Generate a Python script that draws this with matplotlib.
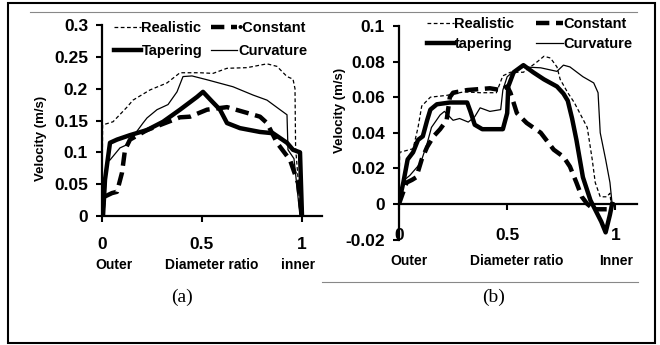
import matplotlib
matplotlib.use("Agg")
import matplotlib.pyplot as plt
from matplotlib.lines import Line2D
from matplotlib.patches import Rectangle

plt.rcParams["font.family"] = ["Liberation Sans", "DejaVu Sans"]
plt.rcParams["font.weight"] = "bold"

# ── data ─────────────────────────────────────────────────────────────────────
# panel (a)
real_a_x = [0.0, 0.003, 0.055, 0.125, 0.155, 0.24, 0.325, 0.39, 0.49, 0.555, 0.625,
            0.725, 0.825, 0.875, 0.925, 0.955, 0.965, 0.968, 0.98, 0.99]
real_a_y = [0.0, 0.143, 0.148, 0.171, 0.182, 0.198, 0.209, 0.225, 0.225, 0.224, 0.232,
            0.233, 0.239, 0.235, 0.219, 0.215, 0.2, 0.107, 0.06, 0.0]

const_a_x = [0.0, 0.01, 0.05, 0.075, 0.1, 0.115, 0.14, 0.225, 0.39, 0.44, 0.525, 0.625,
             0.725, 0.79, 0.825, 0.875, 0.94, 0.98, 1.0]
const_a_y = [0.0, 0.03, 0.036, 0.038, 0.068, 0.104, 0.12, 0.135, 0.155, 0.156, 0.167, 0.171,
             0.162, 0.156, 0.146, 0.115, 0.088, 0.052, 0.0]

taper_a_x = [0.005, 0.015, 0.04, 0.075, 0.14, 0.225, 0.305, 0.39, 0.475, 0.505, 0.55,
             0.59, 0.625, 0.69, 0.79, 0.855, 0.925, 0.955, 0.99, 1.0]
taper_a_y = [0.0, 0.057, 0.115, 0.12, 0.127, 0.135, 0.148, 0.167, 0.187, 0.195, 0.18,
             0.167, 0.146, 0.138, 0.132, 0.13, 0.115, 0.104, 0.1, 0.0]

curv_a_x = [0.005, 0.015, 0.025, 0.04, 0.09, 0.125, 0.205, 0.225, 0.275, 0.33, 0.375,
            0.405, 0.45, 0.525, 0.655, 0.755, 0.825, 0.89, 0.925, 0.93, 0.96, 0.99]
curv_a_y = [0.0, 0.03, 0.085, 0.088, 0.107, 0.112, 0.146, 0.154, 0.167, 0.175, 0.195,
            0.219, 0.22, 0.214, 0.203, 0.19, 0.182, 0.167, 0.159, 0.104, 0.09, 0.0]

# panel (b)
real_b_x = [0.0, 0.003, 0.065, 0.088, 0.105, 0.145, 0.22, 0.30, 0.375, 0.45, 0.48, 0.515,
            0.575, 0.64, 0.67, 0.70, 0.73, 0.745, 0.78, 0.81, 0.87, 0.893, 0.907, 0.93,
            0.96, 0.975, 0.98]
real_b_y = [0.0, 0.029, 0.031, 0.043, 0.055, 0.060, 0.061, 0.063, 0.0625, 0.0625, 0.072, 0.074,
            0.074, 0.080, 0.083, 0.082, 0.077, 0.070, 0.0625, 0.057, 0.043, 0.025, 0.012, 0.004,
            0.004, 0.006, 0.0]

const_b_x = [0.0, 0.035, 0.06, 0.08, 0.105, 0.13, 0.16, 0.19, 0.22, 0.235, 0.25, 0.315,
             0.42, 0.47, 0.5, 0.515, 0.545, 0.59, 0.655, 0.715, 0.76, 0.79, 0.82, 0.845,
             0.87, 0.9, 0.96]
const_b_y = [0.0, 0.012, 0.0135, 0.015, 0.025, 0.032, 0.038, 0.042, 0.047, 0.06, 0.0625, 0.064,
             0.065, 0.064, 0.066, 0.0625, 0.051, 0.0455, 0.04, 0.0305, 0.0265, 0.021, 0.012, 0.004,
             0.0, -0.003, -0.003]

taper_b_x = [0.0, 0.02, 0.04, 0.065, 0.088, 0.11, 0.13, 0.145, 0.175, 0.235, 0.315, 0.33,
             0.35, 0.385, 0.48, 0.5, 0.505, 0.53, 0.575, 0.62, 0.67, 0.73, 0.76, 0.78, 0.80,
             0.82, 0.85, 0.885, 0.91, 0.935, 0.955, 0.975, 0.985]
taper_b_y = [0.001, 0.012, 0.025, 0.029, 0.036, 0.038, 0.047, 0.053, 0.056, 0.057, 0.057, 0.052,
             0.0445, 0.042, 0.042, 0.051, 0.066, 0.074, 0.078, 0.074, 0.07, 0.066, 0.062, 0.058, 0.048,
             0.036, 0.015, 0.002, -0.004, -0.01, -0.016, -0.006, 0.0]

curv_b_x = [0.0, 0.02, 0.05, 0.1, 0.13, 0.15, 0.19, 0.21, 0.25, 0.28, 0.32, 0.35, 0.375,
            0.42, 0.47, 0.48, 0.5, 0.525, 0.575, 0.655, 0.73, 0.76, 0.79, 0.85, 0.9, 0.92,
            0.93, 0.955, 0.975, 0.985]
curv_b_y = [0.0, 0.013, 0.016, 0.023, 0.034, 0.043, 0.05, 0.052, 0.047, 0.048, 0.046, 0.049, 0.054,
            0.052, 0.053, 0.064, 0.0715, 0.074, 0.077, 0.0765, 0.0745, 0.078, 0.077, 0.0715, 0.068,
            0.0625, 0.04, 0.025, 0.012, 0.0]

yticks_a = [0, 0.05, 0.1, 0.15, 0.2, 0.25, 0.3]
yticklabels_a = ["0", "0.05", "0.1", "0.15", "0.2", "0.25", "0.3"]
yticks_b = [-0.02, 0, 0.02, 0.04, 0.06, 0.08, 0.1]
yticklabels_b = ["-0.02", "0", "0.02", "0.04", "0.06", "0.08", "0.1"]
xticks = [0, 0.5, 1]
xticklabels = ["0", "0.5", "1"]

W, H = 660, 345
fig = plt.figure(figsize=(6.6, 3.45), dpi=100)


def px_axes(x0, x1, ytop, ybot):
    return fig.add_axes([x0 / W, (H - ybot) / H, (x1 - x0) / W, (ybot - ytop) / H])


ax_a = px_axes(102, 322, 25, 216)
ax_b = px_axes(399, 637, 26, 239.5)

thin_dash = (0, (3, 2))
thick_dash = (0, (3, 1.5))


def draw(ax, rx, ry, cx, cy, tx, ty, vx, vy, names, anchor, colsp, rowsp):
    h_r, = ax.plot(rx, ry, color="black", lw=0.9, ls=thin_dash)
    h_c, = ax.plot(cx, cy, color="black", lw=3.2, ls=thick_dash)
    h_t, = ax.plot(tx, ty, color="black", lw=3.2)
    h_v, = ax.plot(vx, vy, color="black", lw=0.9)
    leg = ax.legend([h_r, h_t, h_c, h_v], names, ncol=2, frameon=False,
                    loc="upper left", bbox_to_anchor=anchor,
                    fontsize=10.5, handlelength=1.8, handletextpad=0.05,
                    columnspacing=colsp, labelspacing=rowsp, borderaxespad=0)
    for t in leg.get_texts():
        t.set_fontweight("bold")


draw(ax_a, real_a_x, real_a_y, const_a_x, const_a_y, taper_a_x, taper_a_y,
     curv_a_x, curv_a_y, ["Realistic", "Tapering", "•Constant", "Curvature"],
     (0.03, 1.05), 0.6, 0.6)
draw(ax_b, real_b_x, real_b_y, const_b_x, const_b_y, taper_b_x, taper_b_y,
     curv_b_x, curv_b_y, ["Realistic", "tapering", "Constant", "Curvature"],
     (0.095, 1.07), 1.5, 0.45)

for ax, yt, ytl, ylim, xpad in [(ax_a, yticks_a, yticklabels_a, (0, 0.3), 11),
                                (ax_b, yticks_b, yticklabels_b, (-0.02, 0.1), 13)]:
    ax.set_xlim(0, 1.1)
    ax.set_ylim(*ylim)
    ax.set_yticks(yt)
    ax.set_yticklabels(ytl)
    ax.set_xticks(xticks)
    ax.set_xticklabels(xticklabels)
    ax.spines["top"].set_visible(False)
    ax.spines["right"].set_visible(False)
    ax.spines["bottom"].set_position(("data", 0))
    for s in ("left", "bottom"):
        ax.spines[s].set_linewidth(1.6)
    ax.tick_params(axis="y", direction="out", length=4, width=1.5, labelsize=12.5, pad=6)
    ax.tick_params(axis="x", direction="out", length=4, width=1.5, labelsize=12.5, pad=xpad)
    ax.patch.set_alpha(0)

# axis captions under each panel
ax_a.text(0.055, -0.255, "Outer", transform=ax_a.transAxes, ha="center", va="center", fontsize=10)
ax_a.text(0.5, -0.255, "Diameter ratio", transform=ax_a.transAxes, ha="center", va="center", fontsize=10)
ax_a.text(0.89, -0.255, "inner", transform=ax_a.transAxes, ha="center", va="center", fontsize=10)
ax_b.text(0.04, -0.10, "Outer", transform=ax_b.transAxes, ha="center", va="center", fontsize=10)
ax_b.text(0.496, -0.10, "Diameter ratio", transform=ax_b.transAxes, ha="center", va="center", fontsize=10)
ax_b.text(0.912, -0.10, "Inner", transform=ax_b.transAxes, ha="center", va="center", fontsize=10)

fig.text(41 / W, 1 - 138 / H, "Velocity (m/s)", rotation=90, ha="center", va="center", fontsize=9.5)
fig.text(340 / W, 1 - 110 / H, "Velocity (m/s)", rotation=90, ha="center", va="center", fontsize=9.5)

fig.text(182 / W, 1 - 297 / H, "(a)", ha="center", va="center", fontsize=14,
         family="Liberation Serif", fontweight="normal")
fig.text(494 / W, 1 - 297 / H, "(b)", ha="center", va="center", fontsize=14,
         family="Liberation Serif", fontweight="normal")

# frame and separator rules
fig.patches.append(Rectangle((8 / W, 2 / H), 647 / W, 340 / H, transform=fig.transFigure,
                             fill=False, edgecolor="black", lw=1.5))
fig.lines.append(Line2D([30 / W, 637 / W], [1 - 12 / H, 1 - 12 / H], transform=fig.transFigure,
                        color="#888888", lw=0.8))
fig.lines.append(Line2D([322 / W, 638 / W], [1 - 282 / H, 1 - 282 / H], transform=fig.transFigure,
                        color="#888888", lw=0.8))

fig.savefig("out.png", dpi=100)
